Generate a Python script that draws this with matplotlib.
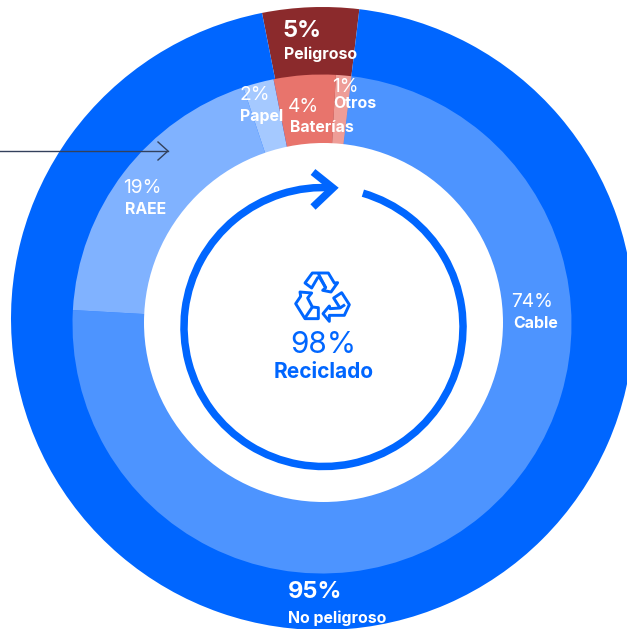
import numpy as np
import matplotlib
matplotlib.use("Agg")
import matplotlib.pyplot as plt
from matplotlib.patches import Arc, Polygon, Circle

outer_labels = ["Peligroso", "No peligroso"]
outer_values = [5, 95]
outer_colors = ["#8B2A2C", "#0066FF"]
inner_labels = ["Cable", "RAEE", "Papel", "Baterías", "Otros"]
inner_values = [74, 19, 2, 4, 1]
inner_colors = ["#4D94FF", "#80B2FF", "#A5C9FF", "#E8746C", "#EE9D97"]
recycled_value = 98
recycled_label = "Reciclado"

W, H = 627, 629
FONT = "Inter"
BLUE = "#0066FF"
plt.rcParams["font.family"] = [FONT, "DejaVu Sans"]


def Y(y):
    return H - y


fig = plt.figure(figsize=(W / 100, H / 100), dpi=100)
ax = fig.add_axes([0, 0, 1, 1])

ax.pie(outer_values, colors=outer_colors, radius=311.5, center=(322.5, Y(318.5)), startangle=101.2,
       counterclock=False, wedgeprops=dict(linewidth=0), frame=False)
ax.pie(inner_values, colors=inner_colors, radius=249.5, center=(322, Y(324)), startangle=83.2,
       counterclock=False, wedgeprops=dict(linewidth=0), frame=False)
ax.add_patch(Circle((323.5, Y(322.5)), 179.5, fc="white", ec="none", zorder=2))
ax.set_xlim(0, W)
ax.set_ylim(0, H)
ax.set_aspect("equal")
ax.axis("off")

# Recycling loop
ax.add_patch(Arc((323.5, Y(327)), 279, 279, theta1=86, theta2=73.6, lw=5.4, color=BLUE,
                 capstyle="butt", zorder=3))
ax.plot([313, 333, 313], [Y(172), Y(188), Y(207)], color=BLUE, lw=5.4, zorder=3,
        solid_joinstyle="miter", solid_capstyle="butt")

# Pointer arrow
DARK = "#33415C"
ax.plot([0, 168], [Y(151), Y(151)], color=DARK, lw=1, zorder=3)
ax.plot([158, 168, 158], [Y(142), Y(151), Y(160)], color=DARK, lw=1, zorder=3)

# Recycling icon (outlines in crop units of a third of a pixel)
icon_shapes = [
    ([(60, 63), (82, 33), (130, 33), (148, 63), (158, 62), (138, 90), (113, 85), (122, 77), (104, 47), (98, 47), (80, 78)], True),
    ([(100, 35), (122, 77)], False),
    ([(114, 155), (133, 132), (135, 140), (165, 138), (146, 108), (170, 92), (193, 128), (178, 160), (133, 160), (133, 178)], True),
    ([(165, 138), (180, 128)], False),
    ([(45, 90), (80, 93), (68, 108), (82, 135), (100, 137), (100, 170), (60, 170), (32, 125), (47, 103)], True),
    ([(82, 135), (60, 168)], False),
]
for pts, closed in icon_shapes:
    p = np.array(pts, dtype=float)
    ax.add_patch(Polygon(np.c_[285 + p[:, 0] / 3, Y(262 + p[:, 1] / 3)], closed=closed, fill=False,
                         ec=BLUE, lw=2.1, joinstyle="round", zorder=3))


def txt(x, y, s, size, weight="bold", color="white"):
    ax.text(x, Y(y), s, fontsize=size, fontweight=weight, color=color, ha="center", va="center",
            family=[FONT, "DejaVu Sans"], zorder=4)


LAB = 11.4
NUM = 13.8
txt(302, 31, f"{outer_values[0]}%", 17)
txt(321, 54, outer_labels[0], LAB)
txt(315, 592, f"{outer_values[1]}%", 17)
txt(337.5, 618, outer_labels[1], LAB)
txt(532, 302, f"{inner_values[0]}%", NUM, "normal")
txt(536, 323, inner_labels[0], LAB)
txt(142, 188, f"{inner_values[1]}%", NUM, "normal")
txt(146, 209, inner_labels[1], LAB)
txt(255, 95, f"{inner_values[2]}%", NUM, "normal")
txt(262, 116, inner_labels[2], LAB)
txt(303, 107, f"{inner_values[3]}%", NUM, "normal")
txt(322, 127, inner_labels[3], LAB)
txt(345, 87, f"{inner_values[4]}%", NUM, "normal")
txt(355, 103, inner_labels[4], LAB)
txt(323, 345, f"{recycled_value}%", 21.5, "normal", BLUE)
txt(324, 372, recycled_label, 15, "bold", BLUE)

fig.savefig("out.png", dpi=100)
